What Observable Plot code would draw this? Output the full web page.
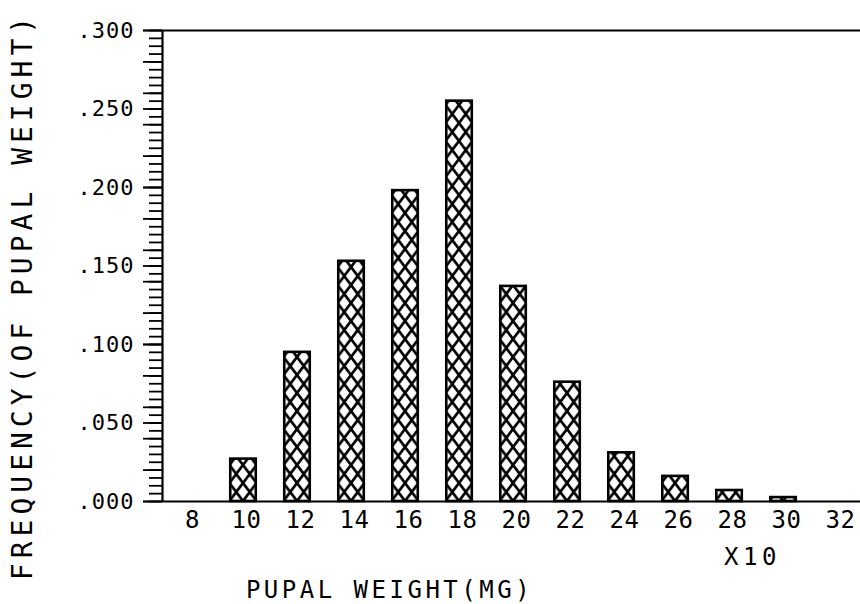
<!DOCTYPE html>
<html>
<head>
<meta charset="utf-8">
<script src="https://cdn.jsdelivr.net/npm/d3@7"></script>
<script src="https://cdn.jsdelivr.net/npm/@observablehq/plot@0.6"></script>
<style>
  html, body { margin: 0; padding: 0; background: #fff; overflow: hidden; }
  #chart svg { display: block; }
  [aria-label="y-axis tick label"] text { letter-spacing: 1px; }
  [aria-label="x-axis tick label"] text { letter-spacing: 0.5px; }
  .ylab text { letter-spacing: 5px; }
  .xlab text { letter-spacing: 3.5px; }
  .x10 text { letter-spacing: 4.5px; }
</style>
</head>
<body>
<div id="chart"></div>
<script>
// Data
const weights = [8, 10, 12, 14, 16, 18, 20, 22, 24, 26, 28, 30, 32];
const frequencies = [0, 0.027, 0.095, 0.153, 0.198, 0.255, 0.137, 0.076, 0.031, 0.016, 0.007, 0.0025, 0];
const yTickValues = [0, 0.05, 0.10, 0.15, 0.20, 0.25, 0.30];
const xTickValues = weights;
const yLabel = "FREQUENCY(OF PUPAL WEIGHT)";
const xLabel = "PUPAL WEIGHT(MG)";
const xMultiplier = "X10";

const table = weights.map((w, i) => ({w, f: frequencies[i]}));
const fmtY = v => d3.format(".3f")(v).replace(/^0/, "");

const plot = Plot.plot({
  width: 860,
  height: 604,
  marginLeft: 162,
  marginRight: 0,
  marginTop: 30,
  marginBottom: 103,
  style: {fontFamily: "'DejaVu Sans Mono', monospace", color: "#000", background: "#fff"},
  x: {domain: [7, 32.85]},
  y: {domain: [0, 0.3]},
  marks: [
    Plot.rectY(table, {
      x1: d => d.w - 0.5, x2: d => d.w + 0.5, y1: 0, y2: "f",
      insetLeft: 0.75, insetRight: 0.75,
      fill: "url(#xhatch)", stroke: "#000", strokeWidth: 2.6
    }),
    Plot.ruleY([0], {stroke: "#000", strokeWidth: 2.2}),
    Plot.ruleY([0.3], {stroke: "#000", strokeWidth: 2}),
    Plot.ruleX([7], {stroke: "#000", strokeWidth: 2.2}),
    // minor y ticks
    Plot.axisY({ticks: 60, tickSize: 13, text: null, strokeWidth: 1.8, label: null}),
    Plot.axisY({ticks: 12, tickSize: 19, text: null, strokeWidth: 1.8, label: null}),
    // major y ticks + labels
    Plot.axisY({ticks: yTickValues, tickSize: 19, tickPadding: 9, tickFormat: fmtY, fontSize: 22, strokeWidth: 1.8, label: null}),
    // x tick labels
    Plot.axisX({ticks: xTickValues, tickSize: 0, tickPadding: 9, fontSize: 24, dx: 3, label: null}),
    // axis titles
    Plot.text([yLabel], {frameAnchor: "left", textAnchor: "middle", text: d => d, rotate: -90, fontSize: 28, dx: -139, dy: 30, className: "ylab"}),
    Plot.text([xLabel], {frameAnchor: "bottom", text: d => d, fontSize: 24, dx: -122, dy: 96, className: "xlab"}),
    Plot.text([xMultiplier], {frameAnchor: "bottom", text: d => d, fontSize: 24, dx: 241, dy: 63, className: "x10"})
  ]
});

// cross-hatch pattern for bars
const defs = d3.select(plot).insert("defs", ":first-child");
const pat = defs.append("pattern")
  .attr("id", "xhatch")
  .attr("patternUnits", "userSpaceOnUse")
  .attr("x", 0).attr("y", 15)
  .attr("width", 13.5).attr("height", 18);
pat.append("rect").attr("width", 13.5).attr("height", 18).attr("fill", "#fff");
pat.append("path")
  .attr("d", "M-1,-1.333L14.5,19.333M14.5,-1.333L-1,19.333")
  .attr("stroke", "#000").attr("stroke-width", 2.7).attr("fill", "none");

document.getElementById("chart").appendChild(plot);
</script>
</body>
</html>
